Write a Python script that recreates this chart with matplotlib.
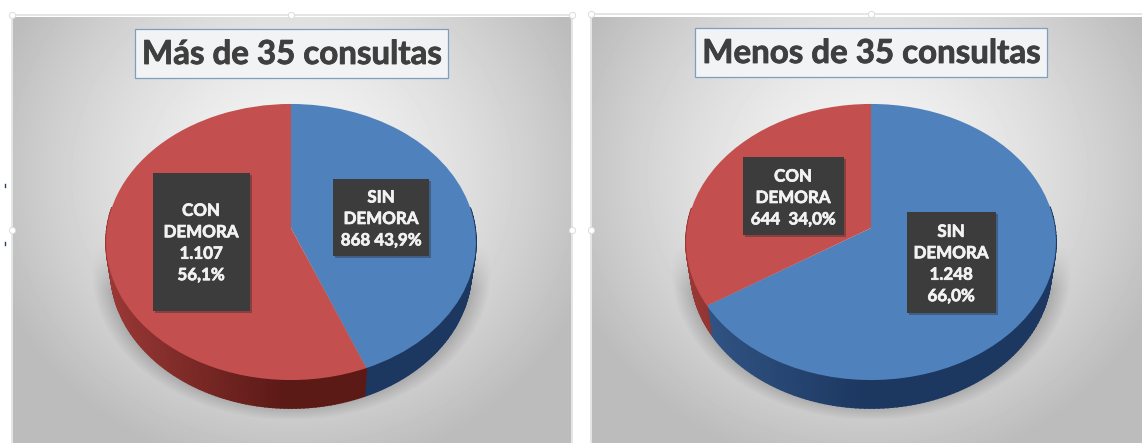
import matplotlib
matplotlib.use('Agg')
import matplotlib.pyplot as plt
import matplotlib.patheffects as pe
import numpy as np
from matplotlib.patches import Rectangle
from matplotlib.transforms import Transform

plt.rcParams['font.family'] = ['Lato', 'DejaVu Sans']

# datos
titles = ['Más de 35 consultas', 'Menos de 35 consultas']
mas_values = [868, 1107]
menos_values = [1248, 644]
mas_labels = ['SIN\nDEMORA\n868 43,9%', 'CON\nDEMORA\n1.107\n56,1%']
menos_labels = ['SIN\nDEMORA\n1.248\n66,0%', 'CON\nDEMORA\n644  34,0%']

BLUE = '#4f81bd'
RED = '#c3504e'
W, H = 1142, 443

# perspectiva de la tarta (circulo unidad -> pixeles)
R = 184
C = 0.1014
A = -113.5
CY = 228
DROP = 28


def project(x, y, cx, scale=1.0, drop=0.0):
    w = 1 + C * y
    return cx + R * scale * x / w, (CY + A * y) / w + drop


class PieProjection(Transform):
    input_dims = 2
    output_dims = 2

    def __init__(self, cx):
        super().__init__()
        self.cx = cx

    def transform_non_affine(self, xy):
        px, py = project(xy[:, 0], xy[:, 1], self.cx)
        return np.column_stack([px, py])


def background(ax, x0, x1):
    # degradado radial del panel
    xs = np.arange(x0, x1)
    ys = np.arange(17, H)
    X, Y = np.meshgrid(xs, ys)
    d = np.hypot((X - (x0 + x1) / 2) / 285, (Y - 175) / 270)
    v = np.clip(246 - 50 * d ** 1.5, 188, 255) / 255
    ax.imshow(v, cmap='gray', vmin=0, vmax=1, extent=(x0, x1, H, 17),
              aspect='auto', zorder=0, interpolation='bilinear')


def shadow(ax, cx):
    xs = np.arange(cx - 215, cx + 215)
    ys = np.arange(235, 425)
    X, Y = np.meshgrid(xs, ys)
    d = np.hypot((X - cx) / 200, (Y - 272) / 148)
    alpha = np.clip((1 - d) / 0.12, 0, 1) * np.clip((Y - 245) / 45, 0, 1)
    alpha = alpha * np.clip((419 - Y) / 1.5, 0, 1) * 0.4
    img = np.zeros(X.shape + (4,))
    img[..., :3] = 0.33
    img[..., 3] = alpha
    ax.imshow(img, extent=(cx - 215, cx + 215, 425, 235), aspect='auto',
              zorder=1, interpolation='bilinear')


def side_color(x, cx, base):
    # el lateral se oscurece hacia el centro
    t = np.clip((x - (cx - R)) / (R * 0.95), 0, 1)
    light, dark = base
    return tuple((1 - t) * np.array(light) + t * np.array(dark))


def draw_side(ax, values, cx):
    fracs = np.cumsum([0] + list(values)) / sum(values)
    bases = [((0.20, 0.34, 0.53), (0.11, 0.22, 0.38)),
             ((0.60, 0.22, 0.21), (0.36, 0.10, 0.09))]
    for i in range(len(values)):
        th = np.linspace(fracs[i], fracs[i + 1], 180) * 2 * np.pi
        for a, b in zip(th[:-1], th[1:]):
            if np.cos((a + b) / 2) > 0.15:
                continue
            xa, ya = project(np.sin(a), np.cos(a), cx)
            xb, yb = project(np.sin(b), np.cos(b), cx)
            xc, yc = project(np.sin(b), np.cos(b), cx, 0.975, DROP)
            xd, yd = project(np.sin(a), np.cos(a), cx, 0.975, DROP)
            col = side_color((xa + xb) / 2, cx, bases[i])
            ax.fill([xa, xb, xc, xd], [ya, yb, yc, yd], color=col, lw=1.2, zorder=2)


def label_box(ax, x0, x1, y0, y1, text, cx_text, y_text):
    ax.add_patch(Rectangle((x0 + 2, y0 + 2), x1 - x0, y1 - y0, fc='#222222', ec='none',
                           alpha=0.35, zorder=4))
    ax.add_patch(Rectangle((x0, y0), x1 - x0, y1 - y0, fc='#3c3c3c', ec='none', zorder=5))
    ax.text(cx_text, y_text, text, color='#f2f2f2', fontsize=12.2, fontweight='bold',
            ha='center', va='center', linespacing=1.42, zorder=6,
            path_effects=[pe.withStroke(linewidth=0.5, foreground='#f2f2f2')])


def handle(ax, x, y):
    ax.plot([x], [y], marker='o', ms=4.5, mfc='white', mec='#dcdcdc', mew=0.7, zorder=8)


fig = plt.figure(figsize=(W / 100, H / 100), dpi=100)
ax = fig.add_axes([0, 0, 1, 1])

background(ax, 13, 571)
background(ax, 592, W)

panels = [(291, mas_values), (871, menos_values)]
for cx, values in panels:
    shadow(ax, cx)
    draw_side(ax, values, cx)
    wedges, _ = ax.pie(values, colors=[BLUE, RED], startangle=90, counterclock=False,
                       radius=1, wedgeprops={'linewidth': 0})
    for wdg in wedges:
        wdg.set_transform(PieProjection(cx) + ax.transData)
        wdg.set_zorder(3)
        wdg.set_clip_on(False)

# cajas de etiqueta
label_box(ax, 333, 429, 179, 256, mas_labels[0], 381, 219)
label_box(ax, 153, 250, 173, 311, mas_labels[1], 201, 243)
label_box(ax, 907, 996, 212, 313, menos_labels[0], 951, 264)
label_box(ax, 743, 844, 157, 235, menos_labels[1], 793, 198)

# titulos
for t, x0, x1, y0, y1 in [(titles[0], 135, 448, 29, 78), (titles[1], 695, 1047, 28, 77)]:
    ax.add_patch(Rectangle((x0, y0), x1 - x0, y1 - y0, fc='#f1f3f5', ec='#7f9dbd', lw=0.9, zorder=5))
    ax.text((x0 + x1) / 2, (y0 + y1) / 2 + 1, t, color='#3f3f3f', fontsize=23.8, fontweight='bold',
            ha='center', va='center', zorder=6,
            path_effects=[pe.withStroke(linewidth=0.6, foreground='#3f3f3f')])

# marco de seleccion
ax.plot([12, 12, 572, 572], [H, 15, 15, H], color='#dedede', lw=1.1, zorder=7)
ax.plot([591, 591, W + 5], [H, 14, 14], color='#dedede', lw=1.1, zorder=7)
for x, y in [(12, 15), (291, 15), (572, 15), (12, 230), (572, 230), (591, 14), (871, 14), (591, 230)]:
    handle(ax, x, y)
ax.plot([5, 5], [184, 187], color='#27406b', lw=1, zorder=8)
ax.plot([5, 5], [242, 245], color='#27406b', lw=1, zorder=8)

ax.set_aspect('auto')
ax.set_xlim(0, W)
ax.set_ylim(H, 0)
ax.axis('off')

fig.savefig('out.png', dpi=100, facecolor='white')
